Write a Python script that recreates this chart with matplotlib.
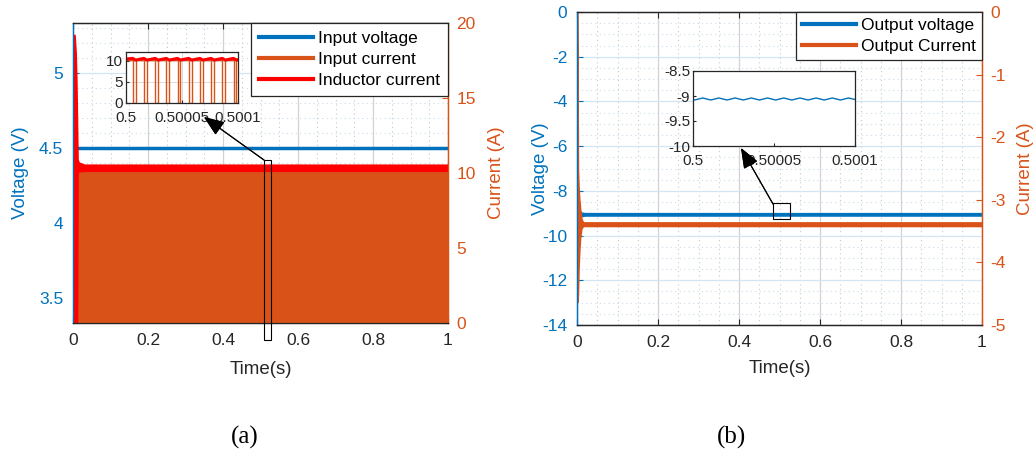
import numpy as np
import matplotlib.pyplot as plt
from matplotlib.lines import Line2D
from matplotlib.patches import Rectangle
from matplotlib.ticker import MultipleLocator, FormatStrFormatter

plt.rcParams['font.family'] = ['Liberation Sans', 'DejaVu Sans']
plt.rcParams['axes.unicode_minus'] = False

BLUE = '#0072BD'
ORANGE = '#D95319'
RED = '#FF0000'
DARK = '#262626'

# ---------------- (a) input side ----------------
vin_t = [0.004, 1.0]
vin = [4.5, 4.5]

# inductor current envelope (dense switching ripple looks like a band)
il_t = [0.0, 0.004, 0.007, 0.009, 0.0105, 0.012, 0.015, 0.03, 1.0]
il_hi = [19.2, 19.2, 18.0, 16.0, 13.5, 10.9, 10.7, 10.55, 10.55]
il_lo = [0.0, 0.0, 0.0, 0.0, 0.0, 10.0, 10.1, 10.15, 10.15]

# input current: switches 0 <-> top at 100 kHz, so it shows as a solid block
iin_t = [0.0095, 0.012, 0.02, 1.0]
iin_hi = [9.9, 10.0, 10.1, 10.1]

# zoom 0.5 .. 0.5001 s, offsets in microseconds
sw_off_us = [6, 16, 26, 36, 46, 56, 66, 76, 86, 96]
sw_on_us = [8.6, 18.6, 28.6, 38.6, 48.6, 58.6, 68.6, 78.6, 88.6, 98.6]
iin_on = 10.1
il_peak = 10.5
il_valley = 10.1
il_start = 10.35
il_end = 10.2

# ---------------- (b) output side ----------------
vo_t = [0.0, 0.0015, 0.003, 0.005, 0.007, 0.009, 0.012, 0.02, 1.0]
vo_hi = [-7.8, -7.8, -8.2, -8.7, -8.9, -8.95, -8.98, -9.0, -9.0]
vo_lo = [-7.8, -9.2, -9.3, -9.25, -9.2, -9.15, -9.12, -9.1, -9.1]

io_t = [0.0, 0.0008, 0.0015, 0.0025, 0.004, 0.006, 0.008, 0.011, 0.015, 1.0]
io_hi = [0.0, 0.0, -1.0, -2.5, -2.8, -3.0, -3.15, -3.3, -3.36, -3.36]
io_lo = [0.0, -2.0, -4.63, -4.5, -4.1, -3.8, -3.6, -3.46, -3.42, -3.42]

# zoomed output voltage ripple
vo_us = [0, 1, 6, 11, 16, 21, 26, 31, 36, 41, 46, 51, 56, 61, 66, 71, 76, 81, 86, 91, 96, 100]
vo_zoom = [-9.07, -9.08, -9.04, -9.08, -9.04, -9.08, -9.04, -9.08, -9.04, -9.08, -9.04,
           -9.08, -9.04, -9.08, -9.04, -9.08, -9.04, -9.08, -9.04, -9.08, -9.04, -9.07]


def style_main(ax, ax2, lcolor, rcolor):
    for a in (ax, ax2):
        a.spines['left'].set_color(lcolor)
        a.spines['right'].set_color(rcolor)
        a.spines['top'].set_color(DARK)
        a.spines['bottom'].set_color(DARK)
        for s in a.spines.values():
            s.set_linewidth(0.9)
    ax.set_xlim(0, 1)
    ax.set_xticks([0, 0.2, 0.4, 0.6, 0.8, 1.0])
    ax.xaxis.set_major_formatter(FormatStrFormatter('%g'))
    ax.xaxis.set_minor_locator(MultipleLocator(0.05))
    ax.tick_params(axis='x', colors=DARK, labelsize=12.5, direction='in', length=4, pad=7, top=True)
    ax.tick_params(axis='x', which='minor', length=0, top=False)
    ax.tick_params(axis='y', colors=lcolor, labelsize=12.5, direction='in', length=4, pad=7)
    ax.tick_params(axis='y', which='minor', length=0)
    ax2.tick_params(axis='y', colors=rcolor, labelsize=12.5, direction='in', length=4, pad=6)
    ax.grid(which='major', axis='x', color='#d2d2d2', lw=0.9)
    ax.grid(which='major', axis='y', color='#d3e4f3', lw=0.9)
    ax.grid(which='minor', axis='x', color='#c8c8c8', lw=0.8, ls=(0, (1, 3)))
    ax.grid(which='minor', axis='y', color='#c9dcee', lw=0.8, ls=(0, (1, 3)))
    ax.set_axisbelow(True)


fig = plt.figure(figsize=(10.34, 4.53), dpi=100)

# ---------------- panel (a) ----------------
ax = fig.add_axes([73 / 1034, 130 / 453, 375 / 1034, 300 / 453])
ax2 = ax.twinx()
style_main(ax, ax2, BLUE, ORANGE)
ax.plot(vin_t, vin, color=BLUE, lw=2.5)
ax.set_ylim(3.3333, 5.3333)
ax.set_yticks([3.5, 4, 4.5, 5])
ax.yaxis.set_major_formatter(FormatStrFormatter('%g'))
ax.yaxis.set_minor_locator(MultipleLocator(0.1))
ax2.fill_between(iin_t, 0, iin_hi, color=ORANGE, lw=0)
ax2.fill_between(il_t, il_lo, il_hi, color=RED, lw=1.2, edgecolor=RED)
ax2.set_ylim(0, 20)
ax2.set_yticks([0, 5, 10, 15, 20])
ax.set_xlabel('Time(s)', fontsize=13.5, color=DARK)
ax.xaxis.set_label_coords(0.5, -0.125)
ax.set_ylabel('Voltage (V)', fontsize=13.5, color=BLUE)
ax.yaxis.set_label_coords(-0.117, 0.5)
ax2.set_ylabel('Current (A)', fontsize=13.5, color=ORANGE)
ax2.yaxis.set_label_coords(1.107, 0.5)
handles = [Line2D([], [], color=BLUE, lw=3), Line2D([], [], color=ORANGE, lw=3),
           Line2D([], [], color=RED, lw=3)]
leg = ax2.legend(handles, ['Input voltage', 'Input current', 'Inductor current'],
                 loc='upper right', bbox_to_anchor=(1, 1), borderaxespad=0, fancybox=False,
                 edgecolor=DARK, framealpha=1, fontsize=12.5, handlelength=3.1,
                 handletextpad=0.3, labelspacing=0.35, borderpad=0.45)
leg.get_frame().set_linewidth(0.9)

# inset (a)
axi = fig.add_axes([126 / 1034, 350 / 453, 112 / 1034, 51 / 453])
t_sq = [0.5]
v_sq = [iin_on]
t_tri = [0.5]
v_tri = [il_start]
for off, on in zip(sw_off_us, sw_on_us):
    t_sq += [0.5 + off * 1e-6, 0.5 + off * 1e-6, 0.5 + on * 1e-6, 0.5 + on * 1e-6]
    v_sq += [iin_on, 0, 0, iin_on]
    t_tri += [0.5 + off * 1e-6, 0.5 + on * 1e-6]
    v_tri += [il_peak, il_valley]
t_sq.append(0.5001)
v_sq.append(iin_on)
t_tri.append(0.5001)
v_tri.append(il_end)
axi.plot(t_sq, v_sq, color=ORANGE, lw=1.0)
axi.plot(t_tri, v_tri, color=RED, lw=2.2)
axi.set_xlim(0.5, 0.5001)
axi.set_ylim(0, 12)
axi.set_yticks([0, 5, 10])
axi.set_xticks([0.5, 0.50005, 0.5001])
axi.set_xticklabels(['0.5', '0.50005', '0.5001'])
axi.tick_params(labelsize=11, direction='in', length=2, pad=2, colors=DARK)
axi.tick_params(axis='x', pad=6)
axi.grid(color='#dcdcdc', lw=0.7)
for s in axi.spines.values():
    s.set_color(DARK)
    s.set_linewidth(0.9)

# ---------------- panel (b) ----------------
bx = fig.add_axes([577 / 1034, 128 / 453, 405 / 1034, 313 / 453])
bx2 = bx.twinx()
style_main(bx, bx2, BLUE, ORANGE)
bx.fill_between(vo_t, vo_lo, vo_hi, color=BLUE, lw=1.2, edgecolor=BLUE)
bx.set_ylim(-14, 0)
bx.set_yticks([-14, -12, -10, -8, -6, -4, -2, 0])
bx.yaxis.set_major_formatter(FormatStrFormatter('%g'))
bx.yaxis.set_minor_locator(MultipleLocator(0.5))
bx2.fill_between(io_t, io_lo, io_hi, color=ORANGE, lw=1.0, edgecolor=ORANGE)
bx2.set_ylim(-5, 0)
bx2.set_yticks([-5, -4, -3, -2, -1, 0])
bx2.yaxis.set_major_formatter(FormatStrFormatter('%g'))
bx.set_xlabel('Time(s)', fontsize=13.5, color=DARK)
bx.xaxis.set_label_coords(0.5, -0.112)
bx.set_ylabel('Voltage (V)', fontsize=13.5, color=BLUE)
bx.yaxis.set_label_coords(-0.068, 0.5)
bx2.set_ylabel('Current (A)', fontsize=13.5, color=ORANGE)
bx2.yaxis.set_label_coords(1.086, 0.5)
handles = [Line2D([], [], color=BLUE, lw=3), Line2D([], [], color=ORANGE, lw=3)]
leg = bx2.legend(handles, ['Output voltage', 'Output Current'],
                 loc='upper right', bbox_to_anchor=(1, 1), borderaxespad=0, fancybox=False,
                 edgecolor=DARK, framealpha=1, fontsize=12.5, handlelength=3.1,
                 handletextpad=0.3, labelspacing=0.3, borderpad=0.35)
leg.get_frame().set_linewidth(0.9)

# inset (b)
bxi = fig.add_axes([693 / 1034, 307 / 453, 162 / 1034, 75 / 453])
bxi.plot([0.5 + u * 1e-6 for u in vo_us], vo_zoom, color=BLUE, lw=1.0)
bxi.set_xlim(0.5, 0.5001)
bxi.set_ylim(-10, -8.5)
bxi.set_yticks([-10, -9.5, -9, -8.5])
bxi.set_yticklabels(['-10', '-9.5', '-9', '-8.5'])
bxi.set_xticks([0.5, 0.50005, 0.5001])
bxi.set_xticklabels(['0.5', '0.50005', '0.5001'])
bxi.tick_params(labelsize=11, direction='in', length=2, pad=2, colors=DARK)
bxi.tick_params(axis='x', pad=6)
for s in bxi.spines.values():
    s.set_color(DARK)
    s.set_linewidth(0.9)

# zoom boxes and arrows
W, H = 1034, 453
fig.add_artist(Rectangle((264 / W, (H - 340) / H), 7 / W, 180 / H, transform=fig.transFigure,
                         fill=False, ec='black', lw=0.8))
fig.add_artist(Rectangle((773 / W, (H - 219) / H), 17 / W, 16 / H, transform=fig.transFigure,
                         fill=False, ec='black', lw=0.8))
arrow = dict(arrowstyle='-|>,head_length=0.9,head_width=0.35', color='black', lw=0.8,
             mutation_scale=14, shrinkA=0, shrinkB=0)
fig.add_artist(plt.annotate('', xy=(204 / W, (H - 117) / H), xytext=(264 / W, (H - 160) / H),
                            xycoords='figure fraction', textcoords='figure fraction',
                            arrowprops=arrow))
fig.add_artist(plt.annotate('', xy=(741 / W, (H - 148) / H), xytext=(773 / W, (H - 204) / H),
                            xycoords='figure fraction', textcoords='figure fraction',
                            arrowprops=arrow))

fig.text(245 / W, (H - 437) / H, '(a)', family='Liberation Serif', fontsize=18,
         ha='center', va='center', color='black')
fig.text(731 / W, (H - 437) / H, '(b)', family='Liberation Serif', fontsize=18,
         ha='center', va='center', color='black')

fig.savefig('out.png', dpi=100)
